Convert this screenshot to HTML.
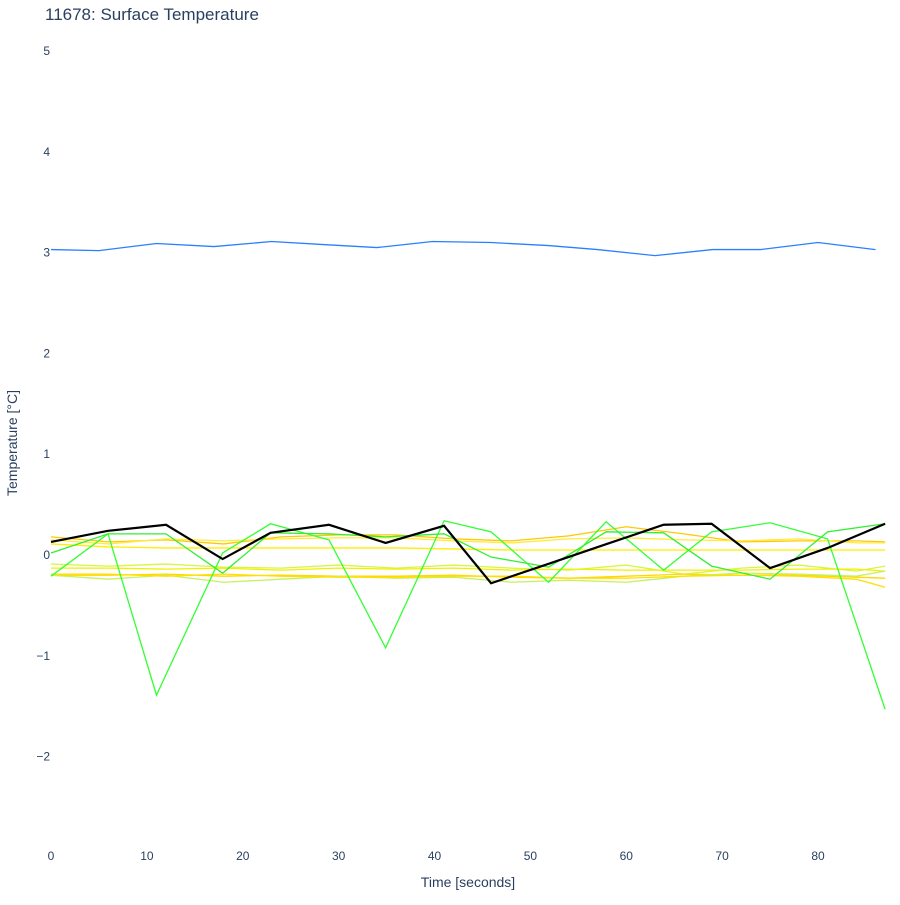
<!DOCTYPE html>
<html><head><meta charset="utf-8"><style>
body{margin:0;background:#fff;font-family:"Liberation Sans",Arial,sans-serif}
svg text{font-family:"Liberation Sans",Arial,sans-serif;fill:#2a3f5f}
</style></head><body>
<svg id="chart" width="900" height="900">
<text x="45" y="20" font-size="17">11678: Surface Temperature</text>
<text x="468" y="887" font-size="14" text-anchor="middle">Time [seconds]</text>
<text transform="translate(17,443) rotate(-90)" font-size="14" text-anchor="middle">Temperature [°C]</text>
<g id="ticks"></g><g id="lines"></g>
</svg>
<script>
const xTicks=[0,10,20,30,40,50,60,70,80];
const yTicks=[5,4,3,2,1,0,-1,-2];
const tBlack=[0,5.95,12,17.9,22.9,29,34.9,41,45.9,51.9,57.9,63.9,68.9,75,81,87];
const vBlack=[0.12,0.23,0.29,-0.05,0.21,0.29,0.11,0.28,-0.29,-0.097,0.097,0.29,0.30,-0.14,0.06,0.30];
const tBlue=[0,5,11,17,23,28.4,34,39.8,45.9,51.9,57,63,69,74,80,86];
const vBlue=[3.02,3.01,3.08,3.05,3.10,3.07,3.04,3.10,3.09,3.06,3.02,2.96,3.02,3.02,3.09,3.02];
const tGreen1=[0,5.95,11,17.9,22.9,29,34.9,41,45.9,51.9,57.9,63.9,68.9,75,81,87];
const vGreen1=[-0.22,0.2,-1.4,0.01,0.3,0.14,-0.93,0.33,0.22,-0.28,0.32,-0.16,0.22,0.31,0.15,-1.54];
const tGreen2=[0,5.95,12,17.9,22.9,29,34.9,41,45.9,51.9,57.9,63.9,68.9,75,81,87];
const vGreen2=[0.01,0.2,0.2,-0.19,0.21,0.2,0.17,0.2,-0.03,-0.13,0.22,0.21,-0.12,-0.25,0.22,0.3];
const tYellow=[0,6,12,18,24,30,36,42,48,54,60,66,72,78,84,87];
const yellowSeries=[
 [0.17,0.12,0.14,0.10,0.17,0.19,0.19,0.15,0.13,0.18,0.27,0.2,0.12,0.13,0.13,0.12],
 [0.14,0.10,0.15,0.13,0.15,0.16,0.16,0.13,0.11,0.15,0.16,0.14,0.13,0.15,0.11,0.11],
 [0.10,0.07,0.06,0.06,0.06,0.06,0.06,0.05,0.04,0.04,0.04,0.04,0.04,0.04,0.04,0.04],
 [-0.10,-0.12,-0.1,-0.13,-0.14,-0.11,-0.14,-0.11,-0.14,-0.16,-0.11,-0.2,-0.14,-0.11,-0.17,-0.12],
 [-0.14,-0.14,-0.15,-0.14,-0.16,-0.14,-0.15,-0.14,-0.16,-0.15,-0.16,-0.16,-0.16,-0.15,-0.15,-0.17],
 [-0.21,-0.21,-0.2,-0.22,-0.21,-0.22,-0.22,-0.21,-0.23,-0.24,-0.22,-0.2,-0.21,-0.21,-0.23,-0.24],
 [-0.21,-0.25,-0.21,-0.28,-0.25,-0.22,-0.24,-0.23,-0.28,-0.26,-0.28,-0.22,-0.19,-0.2,-0.22,-0.17],
 [-0.2,-0.2,-0.22,-0.2,-0.22,-0.23,-0.23,-0.22,-0.22,-0.24,-0.24,-0.22,-0.21,-0.22,-0.25,-0.33]
];
const yellowColors=["#ffc800","#ffeb3b","#ffee00","#d8f542","#f0f000","#ffd700","#c8f060","#ffe000"];
function xs(t){return 51+(t/80)*(818-51);}
function ys(v){return 554-v*100.8;}
const NS="http://www.w3.org/2000/svg";
const tk=document.getElementById('ticks'),ln=document.getElementById('lines');
xTicks.forEach(t=>{const e=document.createElementNS(NS,'text');
e.setAttribute('x',xs(t));e.setAttribute('y',860);e.setAttribute('font-size','12');e.setAttribute('text-anchor','middle');


e.textContent=t;tk.appendChild(e);});
yTicks.forEach(v=>{const e=document.createElementNS(NS,'text');
e.setAttribute('x',50);e.setAttribute('y',ys(v)+5);e.setAttribute('font-size','12');e.setAttribute('text-anchor','end');


e.textContent=v<0?'\u2212'+Math.abs(v):v;tk.appendChild(e);});
function line(t,v,c,w,name){const p=document.createElementNS(NS,'polyline');
p.setAttribute('points',t.map((x,i)=>xs(x)+','+ys(v[i])).join(' '));
p.setAttribute('fill','none');p.setAttribute('stroke',c);p.setAttribute('stroke-width',w);


ln.appendChild(p);}
yellowSeries.forEach((s,i)=>line(tYellow,s,yellowColors[i],1.3,'yellow-series-line'));
line(tBlue,vBlue,'#2a7fff',1.3,'blue-series-line');
line(tGreen1,vGreen1,'#33ff33',1.3,'green-series-line-1');
line(tGreen2,vGreen2,'#33ee33',1.3,'green-series-line-2');
line(tBlack,vBlack,'#000',2.2,'mean-series-line');
</script>
</body></html>
